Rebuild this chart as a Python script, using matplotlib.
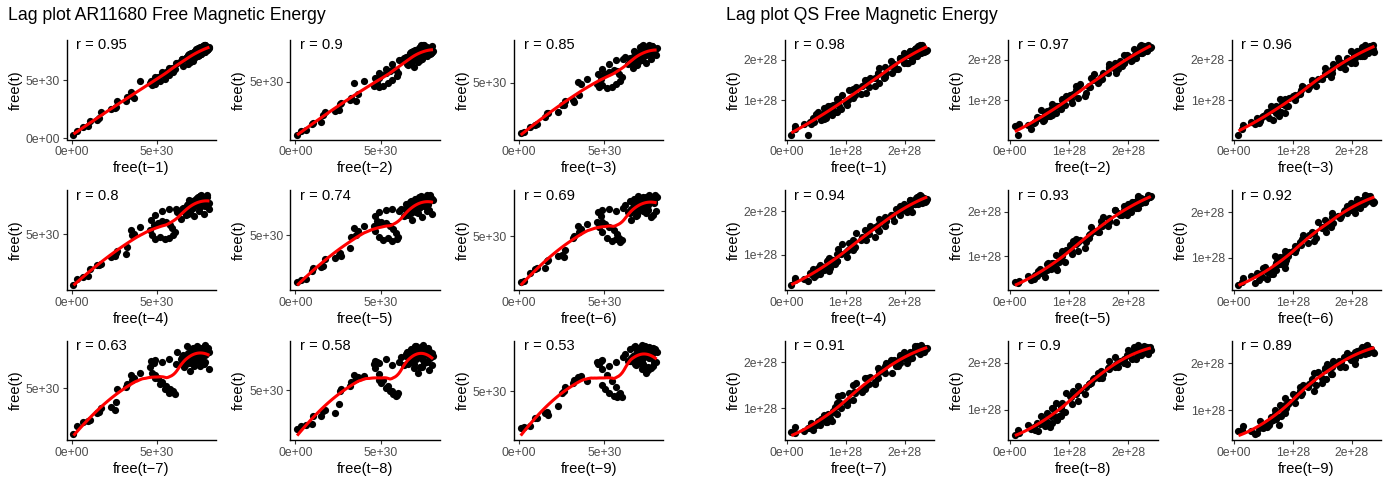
import numpy as np
import matplotlib.pyplot as plt

plt.rcParams['font.family'] = ['Liberation Sans', 'DejaVu Sans']

# free magnetic energy of AR11680, in units of 1e30
ar_free = [0.10, 0.30, 0.65, 0.95, 1.05, 1.50, 1.62, 1.72, 2.30, 2.55,
           2.62, 2.68, 3.20, 3.25, 3.55, 3.65, 3.45, 4.02, 4.90, 5.05,
           5.30, 5.55, 5.75, 5.90, 6.05, 5.95, 5.70, 5.45, 5.15, 4.90,
           4.70, 4.60, 4.80, 4.65, 4.90, 5.30, 5.70, 6.10, 6.50, 6.80,
           6.95, 7.00, 6.85, 7.10, 6.70, 6.95, 7.30, 7.05, 6.80, 7.20,
           7.45, 7.15, 6.90, 7.25, 7.55, 7.30, 7.70, 7.40, 7.10, 7.35,
           7.65, 7.90, 7.60, 7.30, 7.55, 7.85, 8.05, 7.75, 7.45, 7.20,
           6.95, 6.60, 6.85, 6.40, 6.70, 6.95, 6.55, 6.20, 6.50, 6.80,
           7.05, 6.75, 7.00, 7.35, 7.60, 7.25, 7.50, 7.80, 8.00, 7.70,
           7.95, 7.65, 7.40, 7.75, 8.08, 7.85, 7.55, 7.80, 7.45, 7.70,
           7.95, 7.60, 7.35, 7.65, 7.90, 7.70, 7.50, 7.75]

# free magnetic energy of the quiet sun region, in units of 1e28
qs_free = [0.08, 0.14, 0.36, 0.15, 0.30, 0.42, 0.40, 0.47, 0.45, 0.56,
           0.59, 0.50, 0.67, 0.57, 0.63, 0.53, 0.71, 0.77, 0.64, 0.69,
           0.63, 0.80, 0.73, 0.86, 0.72, 0.82, 0.70, 0.86, 0.92, 0.78,
           0.88, 0.86, 1.03, 0.87, 1.04, 1.01, 0.94, 1.14, 1.12, 1.06,
           1.26, 1.15, 1.12, 1.28, 1.35, 1.18, 1.33, 1.40, 1.33, 1.50,
           1.36, 1.49, 1.56, 1.42, 1.54, 1.65, 1.54, 1.67, 1.57, 1.79,
           1.68, 1.67, 1.82, 1.89, 1.78, 1.86, 1.77, 1.98, 1.92, 2.05,
           1.92, 2.03, 1.92, 2.05, 2.13, 1.98, 2.06, 2.13, 1.99, 2.17,
           2.09, 2.21, 2.09, 2.17, 2.09, 2.23, 2.27, 2.17, 2.26, 2.17,
           2.28, 2.22, 2.33, 2.26, 2.36, 2.21, 2.30, 2.38, 2.24, 2.32,
           2.19, 2.29, 2.35, 2.23, 2.31, 2.27, 2.22, 2.34, 2.25, 2.30]

lags = [1, 2, 3, 4, 5, 6, 7, 8, 9]
ar_r = ['0.95', '0.9', '0.85', '0.8', '0.74', '0.69', '0.63', '0.58', '0.53']
qs_r = ['0.98', '0.97', '0.96', '0.94', '0.93', '0.92', '0.91', '0.9', '0.89']

ar_ticks = [0, 5e30]
ar_tick_labels = ['0e+00', '5e+30']
qs_ticks = [0, 1e28, 2e28]
qs_tick_labels = ['0e+00', '1e+28', '2e+28']


def loess(x, y, span=0.75, n_out=80):
    # local quadratic fit with tricube weights, like geom_smooth's default
    xs = np.linspace(x.min(), x.max(), n_out)
    q = int(np.floor(len(x) * span))
    out = []
    for x0 in xs:
        d = np.abs(x - x0)
        h = np.sort(d)[q - 1]
        w = np.clip(1 - (d / h) ** 3, 0, None) ** 3
        A = np.vstack([np.ones_like(x), x - x0, (x - x0) ** 2]).T
        sw = np.sqrt(w)
        coef = np.linalg.lstsq(A * sw[:, None], y * sw, rcond=None)[0]
        out.append(coef[0])
    return xs, np.array(out)


def expand(lo, hi):
    pad = 0.05 * (hi - lo)
    return lo - pad, hi + pad


def lag_panel(ax, series, scale, lag, r, ticks, tick_labels):
    s = np.array(series)
    x = s[:-lag]
    y = s[lag:]
    ax.scatter(x * scale, y * scale, s=27, color='black', linewidths=0, zorder=2)
    lx, ly = loess(x, y)
    ax.plot(lx * scale, ly * scale, color='red', lw=2.2, zorder=3,
            solid_capstyle='butt')

    xlo, xhi = expand(x.min() * scale, x.max() * scale)
    ylo, yhi = expand(min(y.min(), ly.min()) * scale, max(y.max(), ly.max()) * scale)
    ax.set_xlim(xlo, xhi)
    ax.set_ylim(ylo, yhi)

    xt = [(t, l) for t, l in zip(ticks, tick_labels) if xlo <= t <= xhi]
    yt = [(t, l) for t, l in zip(ticks, tick_labels) if ylo <= t <= yhi]
    ax.set_xticks([t for t, l in xt], [l for t, l in xt])
    ax.set_yticks([t for t, l in yt], [l for t, l in yt])

    ax.spines['top'].set_visible(False)
    ax.spines['right'].set_visible(False)
    ax.spines['left'].set_linewidth(1.0)
    ax.spines['bottom'].set_linewidth(1.0)
    ax.tick_params(direction='out', length=3, width=0.8, color='#333333',
                   labelsize=8.7, labelcolor='#4D4D4D', pad=2)
    ax.set_xlabel('free(t\u2212%d)' % lag, fontsize=10.6, labelpad=2)
    ax.set_ylabel('free(t)', fontsize=10.6, labelpad=2)
    ax.text(0.065, 0.945, 'r = ' + r, transform=ax.transAxes,
            fontsize=10.6, ha='left', va='center')


W, H = 1400, 479
fig = plt.figure(figsize=(W / 100, H / 100), dpi=100)

col_left = [66.7, 290.3, 513.9]
col_right = [784.5, 1008.1, 1231.7]
row_top = [40, 190.3, 340.6]
pw, ph = 149.5, 99.5

groups = [(ar_free, 1e30, ar_r, ar_ticks, ar_tick_labels, col_left),
          (qs_free, 1e28, qs_r, qs_ticks, qs_tick_labels, col_right)]

for series, scale, rvals, ticks, tlabels, cols in groups:
    for i, lag in enumerate(lags):
        left = cols[i % 3]
        top = row_top[i // 3]
        ax = fig.add_axes([left / W, 1 - (top + ph) / H, pw / W, ph / H])
        lag_panel(ax, series, scale, lag, rvals[i], ticks, tlabels)

fig.text(7.5 / W, 1 - 15 / H, 'Lag plot AR11680 Free Magnetic Energy',
         fontsize=12.7, va='center', ha='left')
fig.text(726.5 / W, 1 - 15 / H, 'Lag plot QS Free Magnetic Energy',
         fontsize=12.7, va='center', ha='left')

fig.savefig('out.png', dpi=100)
